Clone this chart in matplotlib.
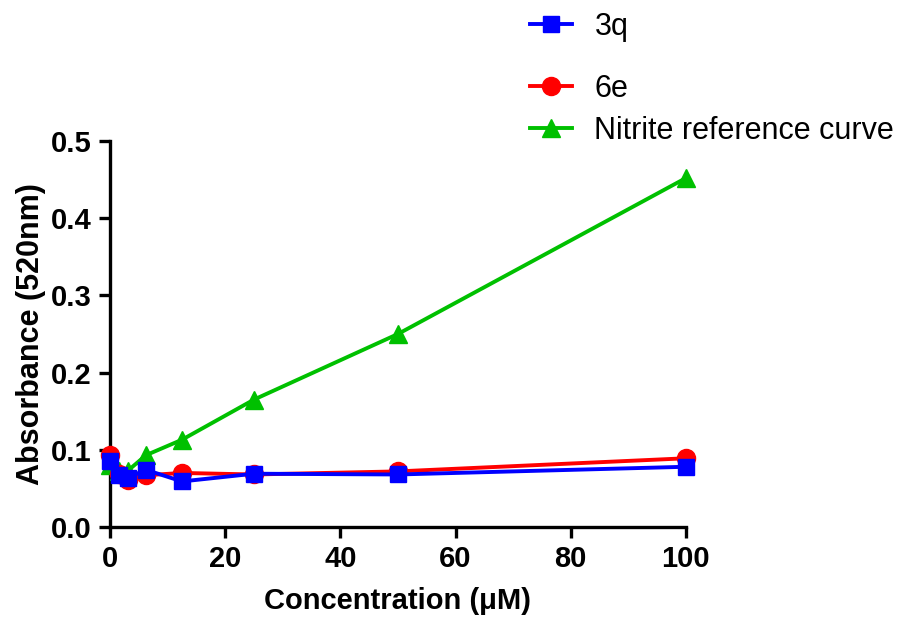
import matplotlib
matplotlib.use("Agg")
import matplotlib.pyplot as plt

plt.rcParams['font.family'] = ['Liberation Sans', 'DejaVu Sans']

conc = [0, 1.5625, 3.125, 6.25, 12.5, 25, 50, 100]
abs_3q = [0.086, 0.067, 0.064, 0.074, 0.059, 0.069, 0.068, 0.078]
abs_6e = [0.093, 0.068, 0.061, 0.067, 0.070, 0.068, 0.072, 0.089]
abs_nitrite = [0.080, 0.072, 0.073, 0.093, 0.113, 0.165, 0.250, 0.452]

fig = plt.figure(figsize=(9.06, 6.17), dpi=100)
ax = fig.add_axes([0.1214, 0.1459, 0.6357, 0.6256])

lw = 2.8
ln_n, = ax.plot(conc, abs_nitrite, '-^', color='#00c000', lw=lw, ms=13, clip_on=False, zorder=3)
ln_6e, = ax.plot(conc, abs_6e, '-o', color='#ff0000', lw=lw, ms=13, clip_on=False, zorder=4)
ln_3q, = ax.plot(conc, abs_3q, '-s', color='#0000ff', lw=lw, ms=12, clip_on=False, zorder=5)

ax.set_xlim(0, 100)
ax.set_ylim(0, 0.5)
ax.set_xticks([0, 20, 40, 60, 80, 100])
ax.set_yticks([0.0, 0.1, 0.2, 0.3, 0.4, 0.5])
ax.set_yticklabels(['0.0', '0.1', '0.2', '0.3', '0.4', '0.5'])

for s in ['top', 'right']:
    ax.spines[s].set_visible(False)
for s in ['left', 'bottom']:
    ax.spines[s].set_linewidth(2.4)
ax.tick_params(width=2.4, length=8, labelsize=21, direction='out', pad=5)
for lab in ax.get_xticklabels() + ax.get_yticklabels():
    lab.set_fontweight('bold')

ax.set_xlabel('Concentration (\u03bcM)', fontsize=21, fontweight='bold', labelpad=10)
ax.set_ylabel('Absorbance (520nm)', fontsize=22, fontweight='bold', labelpad=4)

fig.legend([ln_3q], ['3q'], loc='center left', bbox_to_anchor=(0.555, 0.956),
           frameon=False, fontsize=22, handlelength=1.35, handletextpad=0.75)
fig.legend([ln_6e, ln_n], ['6e', 'Nitrite reference curve'], loc='center left',
           bbox_to_anchor=(0.555, 0.822), frameon=False, fontsize=22, handlelength=1.35,
           handletextpad=0.75, labelspacing=0.4)

fig.savefig('out.png', dpi=100)
